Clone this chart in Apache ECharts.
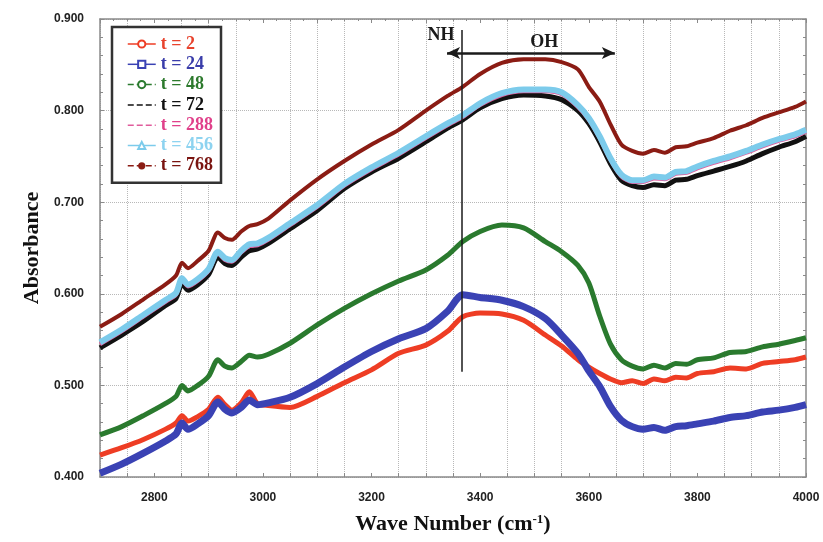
<!DOCTYPE html>
<html>
<head>
<meta charset="utf-8">
<script src="https://cdn.jsdelivr.net/npm/echarts@6/dist/echarts.min.js"></script>
<style>
  html, body { margin: 0; background: #fff; }
  #chart { width: 823px; height: 542px; }
</style>
</head>
<body>
<div id="chart"></div>
<script>
// wave numbers (cm-1) shared by every curve
const waveNumbers = [2700, 2740, 2780, 2820, 2840, 2851, 2862, 2880, 2900, 2917, 2930, 2943, 2960, 2975, 2990, 3010,
  3050, 3100, 3150, 3200, 3250, 3300, 3340, 3368, 3400, 3440, 3480, 3520, 3550, 3580, 3600, 3620, 3640, 3660,
  3680, 3700, 3720, 3740, 3760, 3780, 3800, 3830, 3860, 3890, 3920, 3950, 3980, 4000];

const t2 = [0.424, 0.432, 0.441, 0.452, 0.459, 0.467, 0.461, 0.466, 0.474, 0.487, 0.479, 0.473, 0.481, 0.493, 0.480, 0.478,
  0.476, 0.488, 0.503, 0.517, 0.535, 0.544, 0.559, 0.575, 0.579, 0.578, 0.571, 0.555, 0.543, 0.528, 0.520, 0.513, 0.507, 0.503,
  0.505, 0.502, 0.507, 0.505, 0.509, 0.508, 0.513, 0.515, 0.519, 0.518, 0.524, 0.526, 0.528, 0.531];
const t24 = [0.404, 0.414, 0.426, 0.439, 0.447, 0.459, 0.452, 0.458, 0.467, 0.482, 0.474, 0.470, 0.476, 0.484, 0.479, 0.481,
  0.487, 0.502, 0.520, 0.537, 0.551, 0.562, 0.581, 0.599, 0.596, 0.593, 0.586, 0.573, 0.555, 0.535, 0.516, 0.499, 0.477, 0.462,
  0.455, 0.452, 0.454, 0.451, 0.455, 0.456, 0.458, 0.461, 0.465, 0.467, 0.471, 0.473, 0.476, 0.479];
const t48 = [0.446, 0.455, 0.467, 0.480, 0.488, 0.500, 0.494, 0.500, 0.510, 0.528, 0.521, 0.519, 0.526, 0.533, 0.531, 0.534,
  0.546, 0.566, 0.584, 0.600, 0.614, 0.626, 0.642, 0.657, 0.668, 0.675, 0.672, 0.657, 0.646, 0.631, 0.612, 0.576, 0.545, 0.528,
  0.521, 0.518, 0.522, 0.519, 0.524, 0.523, 0.528, 0.530, 0.536, 0.537, 0.542, 0.545, 0.549, 0.552];
const t72 = [0.541, 0.555, 0.570, 0.587, 0.595, 0.611, 0.604, 0.610, 0.621, 0.640, 0.633, 0.631, 0.640, 0.647, 0.649, 0.655,
  0.671, 0.691, 0.715, 0.733, 0.748, 0.766, 0.781, 0.790, 0.803, 0.813, 0.817, 0.816, 0.812, 0.800, 0.786, 0.766, 0.742, 0.724,
  0.718, 0.716, 0.719, 0.718, 0.724, 0.725, 0.729, 0.734, 0.739, 0.745, 0.753, 0.760, 0.766, 0.772];
const t288 = [0.545, 0.559, 0.575, 0.591, 0.599, 0.615, 0.608, 0.614, 0.625, 0.644, 0.637, 0.635, 0.645, 0.652, 0.653, 0.659,
  0.675, 0.695, 0.718, 0.736, 0.752, 0.770, 0.784, 0.793, 0.806, 0.817, 0.821, 0.821, 0.818, 0.804, 0.790, 0.770, 0.746, 0.728,
  0.722, 0.722, 0.726, 0.725, 0.731, 0.732, 0.737, 0.743, 0.748, 0.754, 0.761, 0.767, 0.772, 0.777];
const t456 = [0.547, 0.561, 0.577, 0.593, 0.601, 0.617, 0.610, 0.616, 0.627, 0.646, 0.639, 0.637, 0.647, 0.654, 0.655, 0.661,
  0.677, 0.697, 0.720, 0.738, 0.754, 0.772, 0.786, 0.795, 0.808, 0.819, 0.823, 0.823, 0.820, 0.806, 0.792, 0.772, 0.748, 0.730,
  0.724, 0.724, 0.728, 0.727, 0.733, 0.734, 0.739, 0.745, 0.750, 0.756, 0.763, 0.769, 0.774, 0.779];
const t768 = [0.564, 0.578, 0.594, 0.610, 0.620, 0.634, 0.628, 0.636, 0.647, 0.667, 0.661, 0.659, 0.668, 0.674, 0.676, 0.682,
  0.702, 0.725, 0.745, 0.763, 0.779, 0.800, 0.816, 0.826, 0.840, 0.852, 0.856, 0.856, 0.853, 0.845, 0.826, 0.810, 0.785, 0.763,
  0.756, 0.753, 0.757, 0.754, 0.760, 0.761, 0.765, 0.770, 0.778, 0.784, 0.792, 0.798, 0.804, 0.810];

const seriesNames = ['t = 2', 't = 24', 't = 48', 't = 72', 't = 288', 't = 456', 't = 768'];

// annotation positions in data units
const nhLine = [[3367, 0.888], [3367, 0.515]];
const ohArrow = [[3339, 0.863], [3648, 0.863]];
const bandLabels = [['NH', 3328, 0.8825], ['OH', 3518, 0.874]];

const serif = '"Liberation Serif", "DejaVu Serif", serif';
const sans = '"Liberation Sans", Arial, sans-serif';
const grid = '#b8b8b8';
const frame = '#8a8a8a';

function mk(name, arr, color, width, symbol) {
  return {
    name: name,
    type: 'line',
    data: waveNumbers.map((w, i) => [w, arr[i]]),
    showSymbol: false,
    symbol: symbol,
    smooth: 0.25,
    lineStyle: { color: color, width: width },
    itemStyle: { color: color },
    emphasis: { disabled: true },
    animation: false
  };
}

const crossPath = 'path://M0,0L10,10M10,0L0,10';
const plusPath = 'path://M5,0L5,10M0,5L10,5';

const series = [
  mk(seriesNames[0], t2, '#ee3d24', 5, 'emptyCircle'),
  mk(seriesNames[1], t24, '#3a42b4', 7, 'emptyRect'),
  mk(seriesNames[2], t48, '#2a7a2e', 5, 'emptyCircle'),
  mk(seriesNames[3], t72, '#111111', 5, crossPath),
  mk(seriesNames[4], t288, '#e05c9c', 4, plusPath),
  mk(seriesNames[5], t456, '#7ccbeb', 6, 'emptyTriangle'),
  mk(seriesNames[6], t768, '#8b1c14', 4, 'circle')
];

series[6].markLine = {
  silent: true,
  animation: false,
  symbol: 'none',
  label: { show: false },
  lineStyle: { color: '#1a1a1a', width: 1.5, type: 'solid' },
  data: [
    [{ coord: nhLine[0] }, { coord: nhLine[1] }],
    [{ coord: ohArrow[0], symbol: 'arrow', symbolSize: [9, 13], lineStyle: { width: 2.5 } },
     { coord: ohArrow[1], symbol: 'arrow', symbolSize: [9, 13], lineStyle: { width: 2.5 } }]
  ]
};
series[6].markPoint = {
  silent: true,
  animation: false,
  symbol: 'rect',
  symbolSize: 1,
  itemStyle: { color: 'rgba(0,0,0,0)' },
  label: {
    show: true, position: 'inside', formatter: p => p.name,
    color: '#1a1a1a', fontFamily: serif, fontWeight: 'bold', fontSize: 18
  },
  data: bandLabels.map(b => ({ name: b[0], coord: [b[1], b[2]] }))
};

const legendColors = ['#e8432d', '#3a3daa', '#2d7a2d', '#111111', '#e0408a', '#8dd3f0', '#7a1410'];
const legendDash = ['solid', 'solid', 'dashed', 'dashed', 'dashed', 'solid', 'dashed'];

const chart = echarts.init(document.getElementById('chart'), null, { renderer: 'canvas' });

chart.setOption({
  backgroundColor: '#fff',
  animation: false,
  grid: { left: 100, right: 17, top: 19, bottom: 65 },
  legend: {
    orient: 'vertical',
    left: 112,
    top: 27,
    padding: [8, 8, 8, 15],
    itemGap: 2.3,
    itemWidth: 28,
    itemHeight: 9,
    borderColor: '#333',
    borderWidth: 2.5,
    backgroundColor: '#fff',
    selectedMode: false,
    lineStyle: { width: 1.5 },
    textStyle: { fontFamily: serif, fontWeight: 'bold', fontSize: 18, lineHeight: 18 },
    data: seriesNames.map((n, i) => ({
      name: n,
      textStyle: { color: legendColors[i] },
      lineStyle: { type: legendDash[i], width: 1.5 }
    }))
  },
  xAxis: [{
    type: 'value',
    min: 2700,
    max: 4000,
    interval: 50,
    name: 'Wave Number (cm{sup|-1})',
    nameLocation: 'middle',
    nameGap: 36,
    nameTextStyle: {
      fontFamily: serif, fontWeight: 'bold', fontSize: 22, color: '#111',
      rich: { sup: { fontFamily: serif, fontWeight: 'bold', fontSize: 13, color: '#111', verticalAlign: 'top', padding: [0, 0, 10, 0] } }
    },
    axisLine: { lineStyle: { color: frame, width: 1.5 } },
    axisTick: { inside: true, length: 4, lineStyle: { color: frame } },
    axisLabel: {
      formatter: v => (v % 200 === 0 ? String(v) : ''),
      margin: 15, fontFamily: sans, fontWeight: 'bold', fontSize: 12, color: '#222'
    },
    splitLine: { show: true, lineStyle: { type: 'dotted', width: 1, color: [grid, grid, 'rgba(0,0,0,0)', grid] } }
  }, {
    type: 'value',
    position: 'top',
    min: 2700,
    max: 4000,
    interval: 100,
    axisLine: { show: true, lineStyle: { color: frame, width: 1.5 } },
    axisTick: { show: true, inside: true, length: 4, lineStyle: { color: frame } },
    minorTick: { show: true, splitNumber: 4, length: 2, lineStyle: { color: frame } },
    axisLabel: { show: false },
    splitLine: { show: false }
  }],
  yAxis: [{
    type: 'value',
    min: 0.4,
    max: 0.9,
    interval: 0.1,
    name: 'Absorbance',
    nameLocation: 'middle',
    nameRotate: 90,
    nameGap: 56,
    nameTextStyle: { fontFamily: serif, fontWeight: 'bold', fontSize: 22, color: '#111' },
    axisLine: { show: true, lineStyle: { color: frame, width: 1.5 } },
    axisTick: { show: true, inside: true, length: 4, lineStyle: { color: frame } },
    minorTick: { show: true, splitNumber: 5, length: 3, lineStyle: { color: frame } },
    axisLabel: {
      formatter: v => v.toFixed(3),
      margin: 16, fontFamily: sans, fontWeight: 'bold', fontSize: 12, color: '#222'
    },
    splitLine: { show: true, lineStyle: { type: 'dotted', width: 1, color: grid } }
  }, {
    type: 'value',
    position: 'right',
    min: 0.4,
    max: 0.9,
    interval: 0.1,
    axisLine: { show: true, lineStyle: { color: frame, width: 1.5 } },
    axisTick: { show: true, inside: true, length: 4, lineStyle: { color: frame } },
    minorTick: { show: true, splitNumber: 5, length: 3, lineStyle: { color: frame } },
    axisLabel: { show: false },
    splitLine: { show: false }
  }],
  series: series
});
</script>
</body>
</html>
